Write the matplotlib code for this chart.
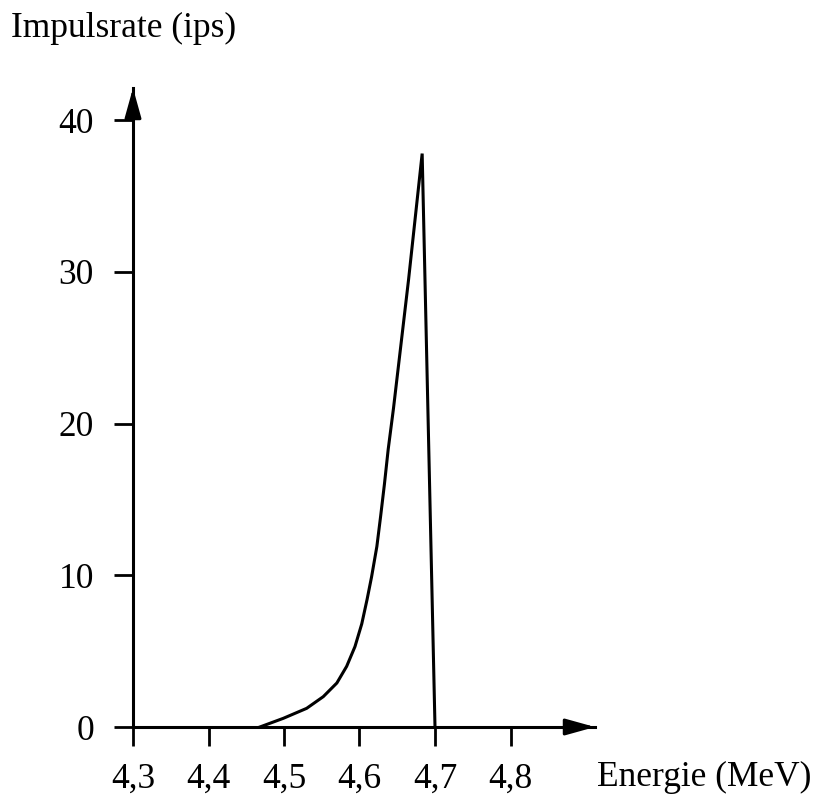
import matplotlib
matplotlib.use("Agg")
import matplotlib.pyplot as plt

energy = [4.468, 4.499, 4.530, 4.552, 4.570, 4.583, 4.594, 4.603, 4.610, 4.616, 4.623,
          4.628, 4.633, 4.638, 4.645, 4.665, 4.683, 4.700]
rate = [0, 0.57, 1.23, 2.0, 2.9, 4.0, 5.3, 6.8, 8.4, 9.9, 11.9,
        13.9, 16.0, 18.3, 21.0, 29.5, 37.8, 0]

xticks = [4.3, 4.4, 4.5, 4.6, 4.7, 4.8]
xticklabels = ["4,3", "4,4", "4,5", "4,6", "4,7", "4,8"]
yticks = [0, 10, 20, 30, 40]
yticklabels = ["0", "10", "20", "30", "40"]

plt.rcParams['font.family'] = ['Liberation Serif', 'DejaVu Serif']

W, H = 817, 798
fig = plt.figure(figsize=(W / 100, H / 100), dpi=100)
x0, x1 = 133, 595   # pixel positions of axis start / arrow tip
y0, y1 = 727, 88
ax = fig.add_axes([x0 / W, 1 - y0 / H, (x1 - x0) / W, (y0 - y1) / H])
ax.set_xlim(4.3, 4.3 + (x1 - x0) / 755.0)
ax.set_ylim(0, (y0 - y1) / 15.17)

ax.plot(energy, rate, color='black', lw=2.2, solid_joinstyle='miter', clip_on=False)

for s in ['top', 'right']:
    ax.spines[s].set_visible(False)
for s in ['left', 'bottom']:
    ax.spines[s].set_linewidth(2.2)

ax.set_xticks(xticks)
ax.set_xticklabels(xticklabels)
ax.set_yticks(yticks)
ax.set_yticklabels(yticklabels)
ax.tick_params(axis='both', direction='out', length=14, width=2.0, labelsize=25.5, colors='black')
ax.tick_params(axis='x', pad=12)
ax.tick_params(axis='y', pad=14)

# arrow heads
ax.annotate('', xy=(1, 0), xytext=(0.96, 0), xycoords='axes fraction',
            arrowprops=dict(arrowstyle='-|>,head_length=1.8,head_width=0.5', mutation_scale=10,
                            color='black', lw=2.2, shrinkA=0, shrinkB=0))
ax.annotate('', xy=(0, 1), xytext=(0, 0.96), xycoords='axes fraction',
            arrowprops=dict(arrowstyle='-|>,head_length=1.8,head_width=0.5', mutation_scale=10,
                            color='black', lw=2.2, shrinkA=0, shrinkB=0))

fig.text(11 / W, 1 - 28 / H, "Impulsrate (ips)", fontsize=25.5, va='center', ha='left')
fig.text(811 / W, 1 - 777 / H, "Energie (MeV)", fontsize=25.5, va='center', ha='right')

fig.savefig("out.png", dpi=100)
